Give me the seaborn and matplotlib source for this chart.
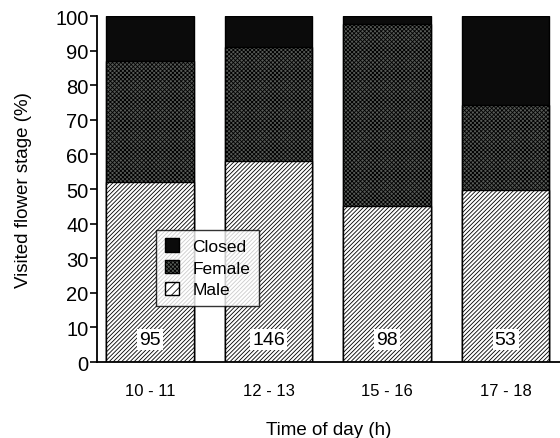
import numpy as np
import pandas as pd
import seaborn as sns
import matplotlib.pyplot as plt
from matplotlib.patches import Patch

# data
periods = ["10 - 11", "12 - 13", "15 - 16", "17 - 18"]
male = [52.0, 58.0, 45.0, 49.7]
female = [35.0, 33.0, 52.7, 24.6]
closed = [13.0, 9.0, 2.3, 25.7]
n_obs = [95, 146, 98, 53]

sns.set_style("white")
plt.rcParams['font.family'] = ['Liberation Sans', 'DejaVu Sans']
plt.rcParams['hatch.linewidth'] = 0.6
plt.rcParams['text.color'] = 'black'
plt.rcParams['axes.labelcolor'] = 'black'
plt.rcParams['xtick.color'] = 'black'
plt.rcParams['ytick.color'] = 'black'

df = pd.DataFrame({"period": periods, "male": male, "female": female, "closed": closed})
df["male_top"] = df["male"]
df["female_top"] = df["male"] + df["female"]
df["closed_top"] = df["female_top"] + df["closed"]

fig = plt.figure(figsize=(5.6, 4.39), dpi=100)
ax = fig.add_axes([0.173, 0.173, 0.827, 0.788])

female_col = "#565b56"

# stacked bars drawn back to front
sns.barplot(data=df, x="period", y="closed_top", color="#0b0b0b", width=0.74,
            edgecolor="black", linewidth=1.0, ax=ax)
sns.barplot(data=df, x="period", y="female_top", color=female_col, width=0.74,
            edgecolor="black", linewidth=1.0, hatch="xxxxxxxx", ax=ax)
sns.barplot(data=df, x="period", y="male_top", color="white", width=0.74,
            edgecolor="black", linewidth=1.0, hatch="////////", ax=ax)

for i, n in enumerate(n_obs):
    ax.text(i, 6.5, str(n), ha="center", va="center", fontsize=14,
            bbox=dict(facecolor="white", edgecolor="none", pad=1.5))

ax.set_ylim(0, 100)
ax.set_xlim(-0.45, 3.46)
ax.set_yticks(np.arange(0, 101, 10))
ax.tick_params(axis="y", labelsize=14.5, length=5, width=1.2, direction="out", left=True, pad=1)
ax.tick_params(axis="x", length=0, pad=15, labelsize=12)

sns.despine(ax=ax, top=True, right=True)
for s in ['left', 'bottom']:
    ax.spines[s].set_linewidth(1.3)
    ax.spines[s].set_color('black')

ax.set_xlabel("Time of day (h)", fontsize=13.5, labelpad=17)
ax.set_ylabel("Visited flower stage (%)", fontsize=13.5, labelpad=17)

handles = [Patch(facecolor="#0b0b0b", edgecolor="black", label="Closed"),
           Patch(facecolor=female_col, edgecolor="black", hatch="xxxxxxxx", label="Female"),
           Patch(facecolor="white", edgecolor="black", hatch="////", label="Male")]
leg = ax.legend(handles=handles, loc="upper left", bbox_to_anchor=(0.128, 0.383),
                fontsize=12.5, frameon=True, fancybox=False, handlelength=0.8,
                handleheight=0.8, handletextpad=0.8, borderpad=0.5, labelspacing=0.35,
                borderaxespad=0)
leg.get_frame().set_edgecolor("black")
leg.get_frame().set_linewidth(1.0)

fig.savefig("out.png", dpi=100)
